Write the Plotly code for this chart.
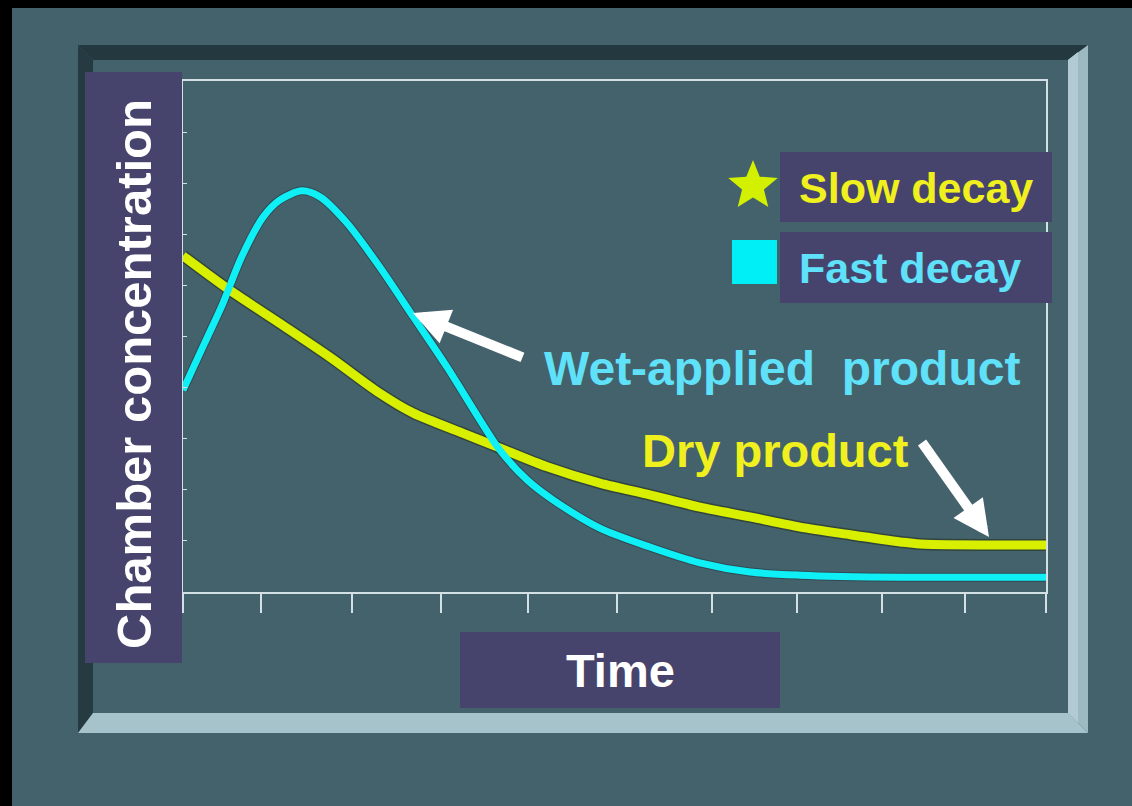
import math
import plotly.graph_objects as go

# ---------------- data ----------------
time_wet = [0, 0.25, 0.46, 0.68, 0.93, 1.12, 1.38, 1.59, 1.90, 2.28, 2.67, 3.06,
            3.44, 3.67, 3.99, 4.29, 4.83, 5.41, 5.99, 6.57, 7.15, 8.31, 10.0]
conc_wet = [3.95, 4.87, 5.64, 6.56, 7.34, 7.67, 7.85, 7.73, 7.22, 6.36, 5.38, 4.40,
            3.37, 2.78, 2.19, 1.80, 1.25, 0.88, 0.57, 0.39, 0.33, 0.29, 0.29]

time_dry = [0, 0.54, 1.12, 1.70, 2.28, 2.67, 3.24, 3.64, 4.22, 4.83, 5.41, 5.99,
            6.57, 7.15, 7.73, 8.31, 8.54, 10.0]
conc_dry = [6.58, 5.91, 5.26, 4.60, 3.89, 3.50, 3.11, 2.84, 2.45, 2.13, 1.90, 1.66,
            1.47, 1.27, 1.12, 0.98, 0.94, 0.92]

time_ticks = [0, 0.905, 1.96, 2.99, 4.0, 5.03, 6.13, 7.11, 8.1, 9.06, 10]
conc_ticks = [1, 2, 3, 4, 5, 6, 7, 8, 9]

y_title = "Chamber concentration"
x_title = "Time"
legend_labels = ["Slow decay", "Fast decay"]
wet_label = "Wet-applied\u00a0 product"
dry_label = "Dry product"

# ---------------- styling ----------------
BG = "#44626b"
BOX = "#46446c"
AXIS = "#d3e0e4"
CYAN = "#0ff0f6"
YELLOW = "#d8f000"
TXT_CYAN = "#5fe1fa"
TXT_YELLOW = "#f0f01e"
FONT = "Arial, 'Liberation Sans', sans-serif"

W_FIG, H_FIG = 1132, 806
L, T, PW, PH = 183, 81, 863, 511


def px(x):
    return (x - L) / PW


def py(y):
    return (T + PH - y) / PH


def dx(x):
    return (x - L) / PW * 10


def dy(y):
    return (T + PH - y) / PH * 10


def poly(pts):
    return "M" + " L".join(f"{px(a):.5f},{py(b):.5f}" for a, b in pts) + " Z"


fig = go.Figure()

# soft dark edges under the lines
fig.add_trace(go.Scatter(x=time_dry, y=conc_dry, mode="lines",
                         line=dict(color="rgba(35,45,25,0.55)", width=12, shape="spline", smoothing=0.8),
                         hoverinfo="skip", showlegend=False))
fig.add_trace(go.Scatter(x=time_wet, y=conc_wet, mode="lines",
                         line=dict(color="rgba(30,50,60,0.5)", width=9, shape="spline", smoothing=0.8),
                         hoverinfo="skip", showlegend=False))
fig.add_trace(go.Scatter(x=time_dry, y=conc_dry, mode="lines", name="Dry product",
                         line=dict(color=YELLOW, width=9, shape="spline", smoothing=0.8),
                         showlegend=False))
fig.add_trace(go.Scatter(x=time_wet, y=conc_wet, mode="lines", name="Wet-applied product",
                         line=dict(color=CYAN, width=7, shape="spline", smoothing=0.8),
                         showlegend=False))

shapes = []
# black edges
shapes.append(dict(type="rect", xref="paper", yref="paper", x0=px(0), x1=px(12), y0=py(0), y1=py(806),
                   fillcolor="black", line=dict(width=0), layer="below"))
shapes.append(dict(type="rect", xref="paper", yref="paper", x0=px(0), x1=px(1132), y0=py(0), y1=py(8),
                   fillcolor="black", line=dict(width=0), layer="below"))
# bevel frame
frame = [
    ([(78, 45), (1088, 45), (1068, 60), (93, 60)], "#24383f"),
    ([(78, 45), (93, 60), (93, 713), (78, 733)], "#263a42"),
    ([(1088, 45), (1088, 733), (1068, 713), (1068, 60)], "#9dbac3"),
    ([(1068, 60), (1078, 52), (1078, 723), (1068, 713)], "#b2cbd3"),
    ([(78, 733), (1088, 733), (1068, 713), (93, 713)], "#a6c2cb"),
]
for pts, col in frame:
    shapes.append(dict(type="path", xref="paper", yref="paper", path=poly(pts),
                       fillcolor=col, line=dict(width=0), layer="below"))

# label boxes
boxes = [(85, 72, 182, 663), (460, 632, 780, 708), (780, 152, 1052, 222), (780, 232, 1052, 303)]
for x0, y0, x1, y1 in boxes:
    shapes.append(dict(type="rect", xref="paper", yref="paper", x0=px(x0), x1=px(x1), y0=py(y0), y1=py(y1),
                       fillcolor=BOX, line=dict(width=0), layer="above"))

# legend swatches: star and square
cx, cy, ro, ri = 753, 186, 26, 11.5
star = []
for k in range(10):
    r = ro if k % 2 == 0 else ri
    a = -math.pi / 2 + k * math.pi / 5
    star.append((cx + r * math.cos(a), cy + r * math.sin(a)))
shapes.append(dict(type="path", xref="paper", yref="paper", path=poly(star),
                   fillcolor="#d2f000", line=dict(width=0), layer="above"))
shapes.append(dict(type="rect", xref="paper", yref="paper", x0=px(732), x1=px(777), y0=py(240), y1=py(284),
                   fillcolor="#00eef6", line=dict(width=0), layer="above"))

annotations = [
    dict(xref="paper", yref="paper", x=px(134), y=py(374), text=f"<b>{y_title}</b>", textangle=-90,
         showarrow=False, xanchor="center", yanchor="middle", font=dict(family=FONT, size=49, color="white")),
    dict(xref="paper", yref="paper", x=px(620), y=py(670), text=f"<b>{x_title}</b>",
         showarrow=False, xanchor="center", yanchor="middle", font=dict(family=FONT, size=47, color="white")),
    dict(xref="paper", yref="paper", x=px(797), y=py(188), text=f"<b>{legend_labels[0]}</b>",
         showarrow=False, xanchor="left", yanchor="middle", font=dict(family=FONT, size=43, color=TXT_YELLOW)),
    dict(xref="paper", yref="paper", x=px(797), y=py(268), text=f"<b>{legend_labels[1]}</b>",
         showarrow=False, xanchor="left", yanchor="middle", font=dict(family=FONT, size=43, color=TXT_CYAN)),
    dict(xref="paper", yref="paper", x=px(782), y=py(368), text=f"<b>{wet_label}</b>",
         showarrow=False, xanchor="center", yanchor="middle", font=dict(family=FONT, size=48, color=TXT_CYAN)),
    dict(xref="paper", yref="paper", x=px(775), y=py(450), text=f"<b>{dry_label}</b>",
         showarrow=False, xanchor="center", yanchor="middle", font=dict(family=FONT, size=47, color=TXT_YELLOW)),
    # arrows
    dict(xref="x", yref="y", axref="x", ayref="y", x=dx(413), y=dy(313), ax=dx(524), ay=dy(358),
         text="", showarrow=True, arrowhead=2, arrowsize=0.72, arrowwidth=10, arrowcolor="white", standoff=0),
    dict(xref="x", yref="y", axref="x", ayref="y", x=dx(989), y=dy(537), ax=dx(921), ay=dy(441),
         text="", showarrow=True, arrowhead=2, arrowsize=0.72, arrowwidth=10, arrowcolor="white", standoff=0),
]

fig.update_layout(
    width=W_FIG, height=H_FIG,
    margin=dict(l=L, r=W_FIG - L - PW, t=T, b=H_FIG - T - PH, pad=0),
    paper_bgcolor=BG, plot_bgcolor=BG,
    shapes=shapes, annotations=annotations, showlegend=False,
    xaxis=dict(range=[0, 10], showline=True, linecolor=AXIS, linewidth=2, mirror=True,
               ticks="outside", ticklen=19, tickwidth=2, tickcolor=AXIS, tickvals=time_ticks,
               showticklabels=False, showgrid=False, zeroline=False, fixedrange=True),
    yaxis=dict(range=[0, 10], showline=True, linecolor=AXIS, linewidth=2, mirror=True,
               ticks="inside", ticklen=4, tickwidth=1, tickcolor=AXIS, tickvals=conc_ticks,
               showticklabels=False, showgrid=False, zeroline=False, fixedrange=True),
)

fig.write_html("out.html", config={"displayModeBar": False},
               post_script="document.body.style.margin='0';document.body.style.background='" + BG + "';")
